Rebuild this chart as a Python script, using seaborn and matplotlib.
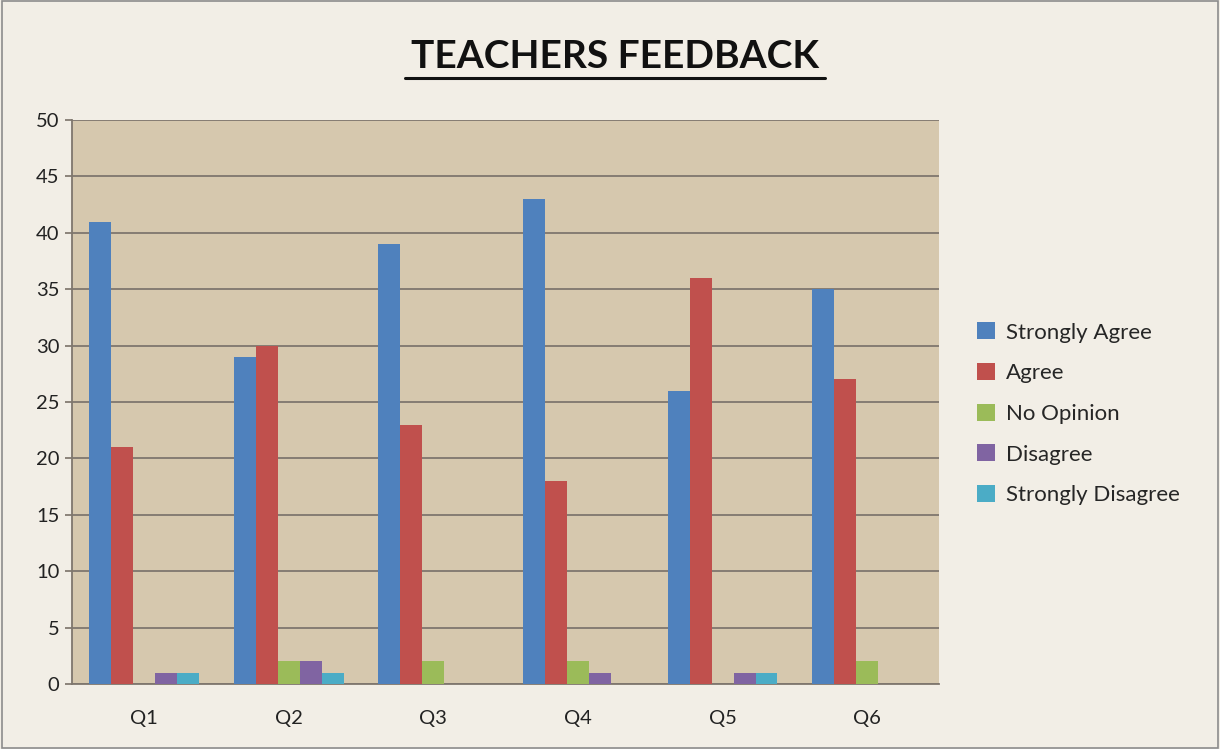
import matplotlib
matplotlib.use("Agg")
import matplotlib.pyplot as plt
import seaborn as sns
import pandas as pd
from matplotlib.lines import Line2D

questions = ["Q1", "Q2", "Q3", "Q4", "Q5", "Q6"]
strongly_agree = [41, 29, 39, 43, 26, 35]
agree = [21, 30, 23, 18, 36, 27]
no_opinion = [0, 2, 2, 2, 0, 2]
disagree = [1, 2, 0, 1, 1, 0]
strongly_disagree = [1, 1, 0, 0, 1, 0]
series_names = ["Strongly Agree", "Agree", "No Opinion", "Disagree", "Strongly Disagree"]
colors = ["#4F81BD", "#C0504D", "#9BBB59", "#8064A2", "#4BACC6"]

rows = []
for name, vals in zip(series_names, [strongly_agree, agree, no_opinion, disagree, strongly_disagree]):
    for q, v in zip(questions, vals):
        rows.append({"Question": q, "Response": name, "Count": v})
df = pd.DataFrame(rows)

sns.set_theme(style="white")
plt.rcParams['font.family'] = ['Lato', 'DejaVu Sans']

fig = plt.figure(figsize=(12.2, 7.49), dpi=100)
fig.patch.set_facecolor("#F2EEE6")
ax = fig.add_axes([0.059, 0.0868, 0.711, 0.753])
ax.set_facecolor("#D6C8AE")

sns.barplot(data=df, x="Question", y="Count", hue="Response", hue_order=series_names,
            palette=colors, width=0.76, ax=ax, saturation=1, legend=True, zorder=3,
            linewidth=0, edgecolor="none")

ax.set_ylim(0, 50)
ax.set_yticks(range(0, 51, 5))
ax.yaxis.grid(True, color="#7F776E", linewidth=1.3, zorder=0)
ax.set_axisbelow(True)
ax.set_xlabel("")
ax.set_ylabel("")
for s in ["top", "right"]:
    ax.spines[s].set_visible(False)
for s in ["left", "bottom"]:
    ax.spines[s].set_color("#7F776E")
    ax.spines[s].set_linewidth(1.3)
ax.tick_params(axis="y", labelsize=14.5, colors="#222222", length=5, direction="out", left=True,
               color="#7F776E", pad=4)
ax.tick_params(axis="x", labelsize=14.5, colors="#222222", length=0, pad=19)

leg = ax.legend(loc="center left", bbox_to_anchor=(1.02, 0.479), frameon=False, fontsize=16,
                handlelength=0.8, handleheight=0.8, handletextpad=0.5, labelspacing=0.92)

fig.text(0.504, 0.924, "TEACHERS FEEDBACK", ha="center", va="center", fontsize=28,
         fontweight="bold", color="#111111")
fig.add_artist(Line2D([0.332, 0.676], [0.896, 0.896], color="#111111", linewidth=2.2,
                      transform=fig.transFigure))
fig.add_artist(plt.Rectangle((0.002, 0.002), 0.996, 0.996, transform=fig.transFigure,
                             fill=False, edgecolor="#8C8C8C", linewidth=1.2))

fig.savefig("out.png", dpi=100, facecolor=fig.get_facecolor())
